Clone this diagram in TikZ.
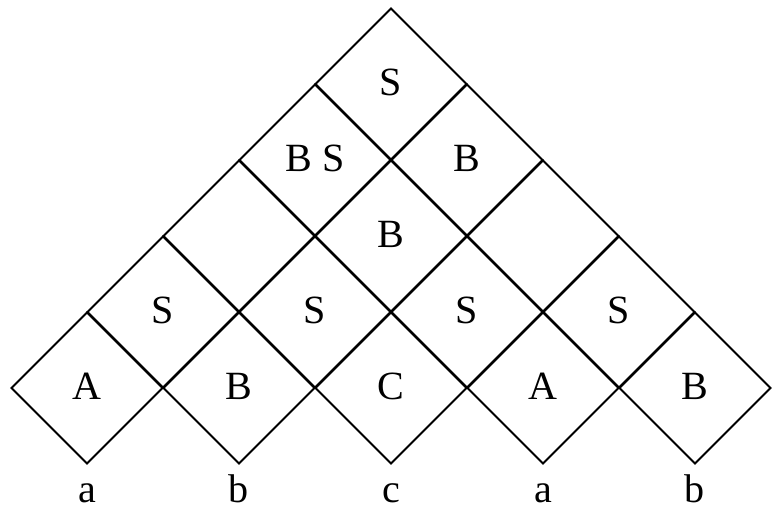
\documentclass[tikz,border=0pt]{standalone}
\usepackage{fontspec}
\setmainfont{Liberation Serif}
\usepackage{tikz}
\usetikzlibrary{shapes.geometric}

\begin{document}
\begin{tikzpicture}[
      font=\fontsize{22.8pt}{27pt}\selectfont,
      cellbox/.style={draw=black,line width=1.1pt,shape=diamond,aspect=1,minimum width=3.04cm,minimum height=3.04cm,inner sep=0pt,text depth=0.15em},
      wordsym/.style={anchor=base,inner sep=0pt}
    ]
      \useasboundingbox (0,0) rectangle (15.52,10.2);
      % row 1: single symbols
      \node[cellbox] (r1a) at (1.74,2.44) {A};
      \node[cellbox] (r1b) at (4.78,2.44) {B};
      \node[cellbox] (r1c) at (7.82,2.44) {C};
      \node[cellbox] (r1d) at (10.86,2.44) {A};
      \node[cellbox] (r1e) at (13.90,2.44) {B};
      % row 2
      \node[cellbox] (r2a) at (3.26,3.96) {S};
      \node[cellbox] (r2b) at (6.30,3.96) {S};
      \node[cellbox] (r2c) at (9.34,3.96) {S};
      \node[cellbox] (r2d) at (12.38,3.96) {S};
      % row 3
      \node[cellbox] (r3a) at (4.78,5.48) {};
      \node[cellbox] (r3b) at (7.82,5.48) {B};
      \node[cellbox] (r3c) at (10.86,5.48) {};
      % row 4
      \node[cellbox] (r4a) at (6.30,7.00) {B S};
      \node[cellbox] (r4b) at (9.34,7.00) {B};
      % row 5
      \node[cellbox] (r5a) at (7.82,8.52) {S};
      % input word
      \node[wordsym] (wa) at (1.74,0.14) {a};
      \node[wordsym] (wb) at (4.78,0.14) {b};
      \node[wordsym] (wc) at (7.82,0.14) {c};
      \node[wordsym] (wd) at (10.86,0.14) {a};
      \node[wordsym] (we) at (13.90,0.14) {b};
    \end{tikzpicture}
\end{document}
